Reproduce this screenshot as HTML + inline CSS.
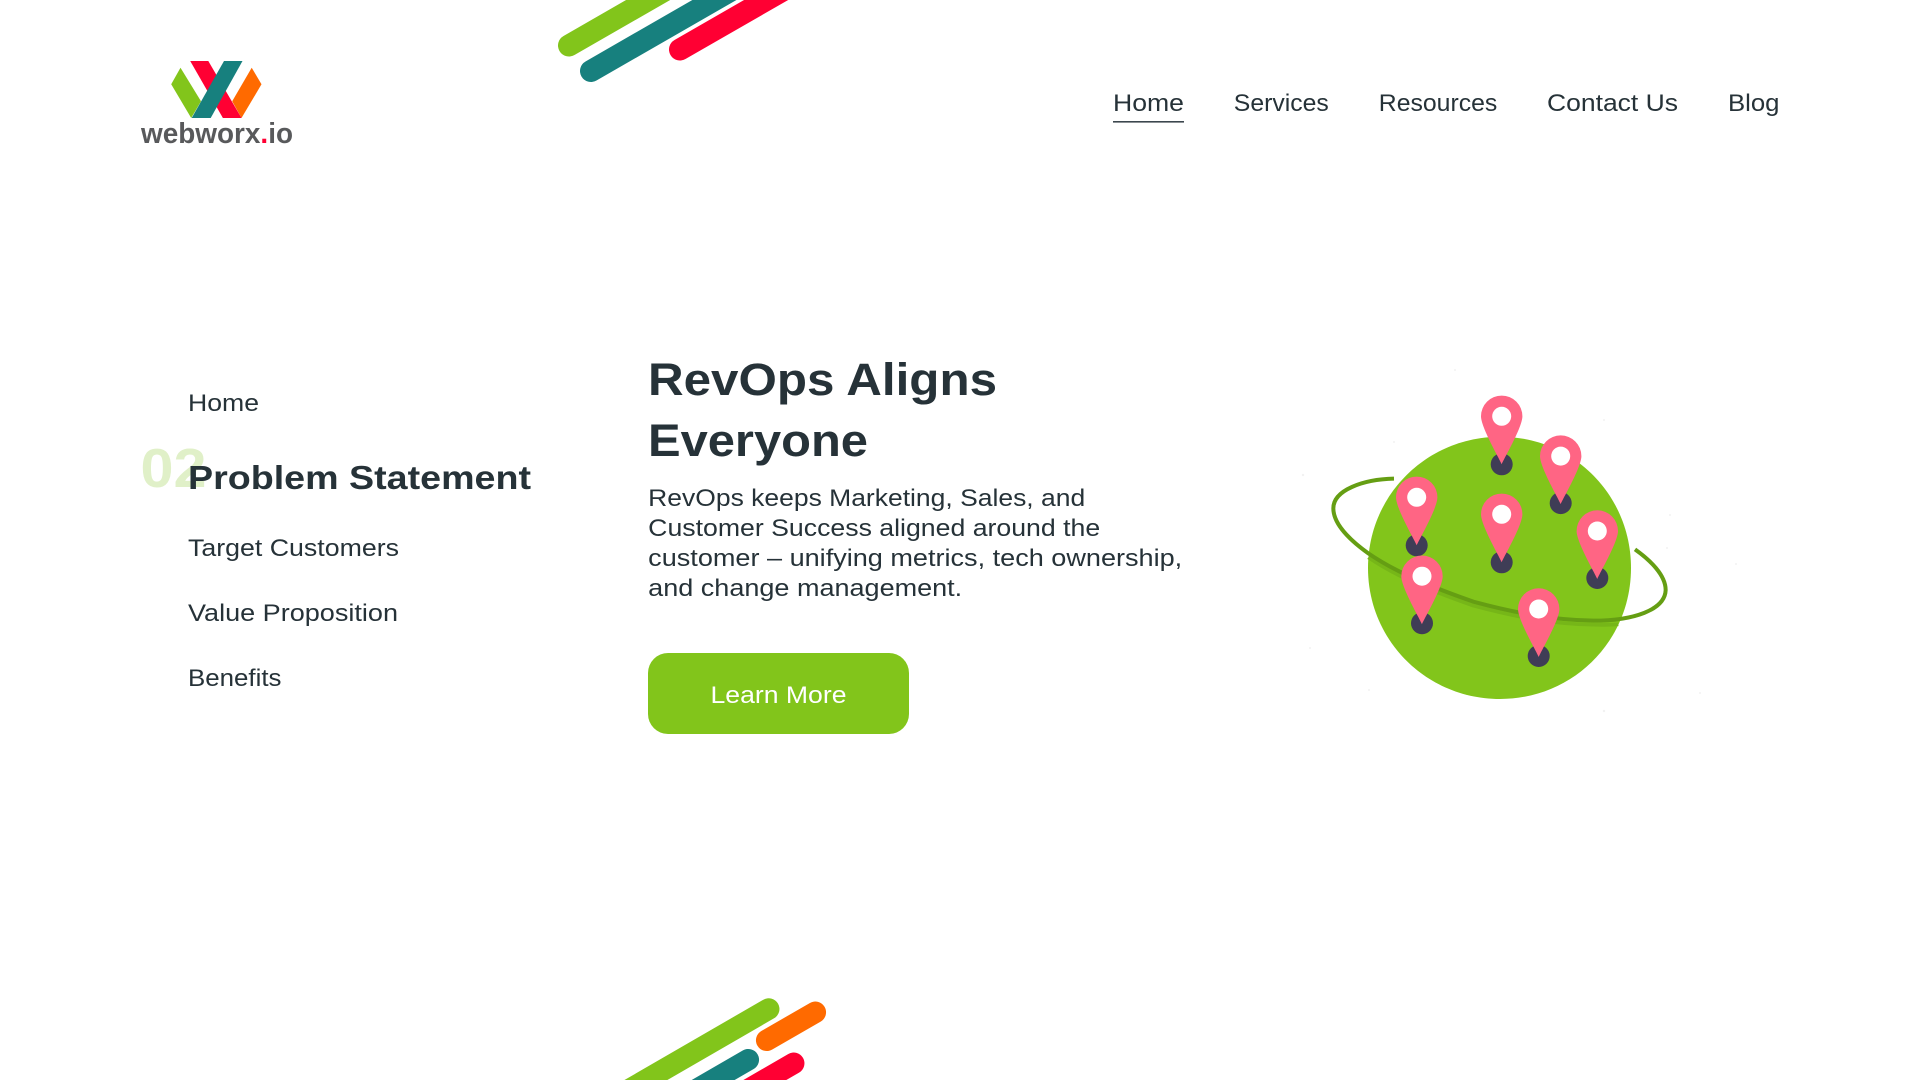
<!DOCTYPE html>
<html lang="en">
<head>
<meta charset="utf-8">
<title>RevOps Aligns Everyone</title>
<style>
html,body{margin:0;padding:0;width:1920px;height:1080px;overflow:hidden;background:#fff}
svg{display:block}
text{font-family:"Liberation Sans",sans-serif;fill:#263238}
</style>
</head>
<body>
<svg xmlns="http://www.w3.org/2000/svg" width="1920" height="1080" viewBox="0 0 1920 1080">
<defs>
  <g id="pin">
    <circle cx="0" cy="0" r="11" fill="#3f3d56"/>
    <path d="M0 0 C-3 -7 -20.7 -37 -20.7 -48 A20.7 20.7 0 1 1 20.7 -48 C20.7 -37 3 -7 0 0Z" fill="#ff6584"/>
    <circle cx="0" cy="-48" r="9.5" fill="#fff"/>
  </g>
  <g id="pinb">
    <circle cx="0" cy="-1" r="11" fill="#3f3d56"/>
    <path d="M0 0 C-3 -7 -20.7 -37 -20.7 -48 A20.7 20.7 0 1 1 20.7 -48 C20.7 -37 3 -7 0 0Z" fill="#ff6584"/>
    <circle cx="0" cy="-48" r="9.5" fill="#fff"/>
  </g>
</defs>

<!-- top stripes -->
<g stroke-width="22" stroke-linecap="round" fill="none">
  <line x1="569" y1="45.5" x2="669" y2="-12" stroke="#82c51b"/>
  <line x1="591" y1="71" x2="737" y2="-13" stroke="#17807e"/>
  <line x1="680" y1="49.5" x2="787" y2="-12" stroke="#ff0033"/>
</g>

<!-- logo -->
<polygon points="180.5,67.7 201,101.3 191.2,118 171.2,84.3" fill="#82c51b"/>
<polygon points="251.7,67.7 261.5,84.3 241.5,118 232.2,101.3" fill="#ff6a00"/>
<polygon points="190.2,61 208.3,61 241.5,118 222.9,118" fill="#ff0033"/>
<polygon points="224,61 242.5,61 210.7,118 191.7,118" fill="#17807e"/>
<text x="141" y="143" font-size="29" font-weight="700" textLength="152" lengthAdjust="spacingAndGlyphs" style="fill:#58595b">webworx<tspan style="fill:#ff0033">.</tspan>io</text>

<!-- nav -->
<g font-size="24">
  <text x="1113" y="111" textLength="71" lengthAdjust="spacingAndGlyphs">Home</text>
  <text x="1233.8" y="111" textLength="95" lengthAdjust="spacingAndGlyphs">Services</text>
  <text x="1378.8" y="111" textLength="118.5" lengthAdjust="spacingAndGlyphs">Resources</text>
  <text x="1547" y="111" textLength="131" lengthAdjust="spacingAndGlyphs">Contact Us</text>
  <text x="1728" y="111" textLength="51.5" lengthAdjust="spacingAndGlyphs">Blog</text>
</g>
<rect x="1113" y="121" width="71" height="1.6" fill="#3c474e"/>

<!-- side menu -->
<text x="140.5" y="487" font-size="55" font-weight="700" textLength="66" lengthAdjust="spacingAndGlyphs" style="fill:#e0f0c8">02</text>
<g font-size="24.5">
  <text x="188" y="411" textLength="71" lengthAdjust="spacingAndGlyphs">Home</text>
  <text x="188" y="556" textLength="211" lengthAdjust="spacingAndGlyphs">Target Customers</text>
  <text x="188" y="621" textLength="210" lengthAdjust="spacingAndGlyphs">Value Proposition</text>
  <text x="188" y="686" textLength="93.5" lengthAdjust="spacingAndGlyphs">Benefits</text>
</g>
<text x="188" y="489" font-size="33" font-weight="700" textLength="343" lengthAdjust="spacingAndGlyphs">Problem Statement</text>

<!-- heading -->
<g font-size="45" font-weight="700">
  <text x="648" y="395" textLength="349" lengthAdjust="spacingAndGlyphs">RevOps Aligns</text>
  <text x="648" y="456" textLength="220" lengthAdjust="spacingAndGlyphs">Everyone</text>
</g>
<g font-size="24">
  <text x="648.2" y="506" textLength="437" lengthAdjust="spacingAndGlyphs">RevOps keeps Marketing, Sales, and</text>
  <text x="648.2" y="536" textLength="452" lengthAdjust="spacingAndGlyphs">Customer Success aligned around the</text>
  <text x="648.2" y="566" textLength="534" lengthAdjust="spacingAndGlyphs">customer – unifying metrics, tech ownership,</text>
  <text x="648.2" y="596" textLength="314" lengthAdjust="spacingAndGlyphs">and change management.</text>
</g>

<!-- button -->
<rect x="648" y="653" width="261" height="81" rx="20" ry="20" fill="#82c51b"/>
<text x="710.5" y="703" font-size="24.5" textLength="136" lengthAdjust="spacingAndGlyphs" style="fill:#fff">Learn More</text>

<!-- planet illustration -->
<g fill="#f2f2f2">
  <circle cx="1303" cy="475" r="1.2"/><circle cx="1394" cy="442" r="1"/><circle cx="1604" cy="420" r="1"/>
  <circle cx="1670" cy="515" r="1"/><circle cx="1667" cy="548" r="1"/><circle cx="1310" cy="648" r="1"/>
  <circle cx="1369" cy="690" r="1"/><circle cx="1604" cy="711" r="1.2"/><circle cx="1736" cy="564" r="1"/>
  <circle cx="1700" cy="693" r="1"/><circle cx="1455" cy="370" r="1"/>
</g>
<path d="M1368 568 C1368 495 1427 436.7 1500 436.7 C1573 436.7 1631 495 1631 568 C1631 641 1573 699 1500 699 C1427 699 1368 641 1368 568Z" fill="#82c51b"/>
<g transform="translate(1300 380) scale(.33333)" fill="none">
  <path d="M205 532 C300 597 420 642 520 677 C650 712 760 732 880 734 C905 735 930 735 955 733" stroke="#76b618" stroke-width="11"/>
  <path d="M282 296 C190 298 100 330 100 385 C100 440 170 495 205 520 C300 585 420 630 520 665 C650 700 760 720 880 722 C1000 722 1095 690 1097 630 C1097 585 1050 540 1005 508" stroke="#659e13" stroke-width="12"/>
</g>
<use href="#pin" x="1501.7" y="464.3"/>
<use href="#pinb" x="1560.7" y="504.1"/>
<use href="#pin" x="1416.7" y="545.3"/>
<use href="#pin" x="1501.7" y="562.3"/>
<use href="#pinb" x="1597.3" y="579"/>
<use href="#pinb" x="1422" y="624.2"/>
<use href="#pinb" x="1538.7" y="657"/>

<!-- bottom stripes -->
<g stroke-width="21.5" stroke-linecap="round" fill="none">
  <line x1="768.7" y1="1009" x2="620" y2="1095" stroke="#82c51b"/>
  <line x1="815.3" y1="1012.3" x2="766.7" y2="1040.3" stroke="#ff6a00"/>
  <line x1="748.3" y1="1059.7" x2="695" y2="1090.5" stroke="#17807e"/>
  <line x1="793.7" y1="1063.3" x2="745" y2="1091.5" stroke="#ff0033"/>
</g>
</svg>
</body>
</html>
